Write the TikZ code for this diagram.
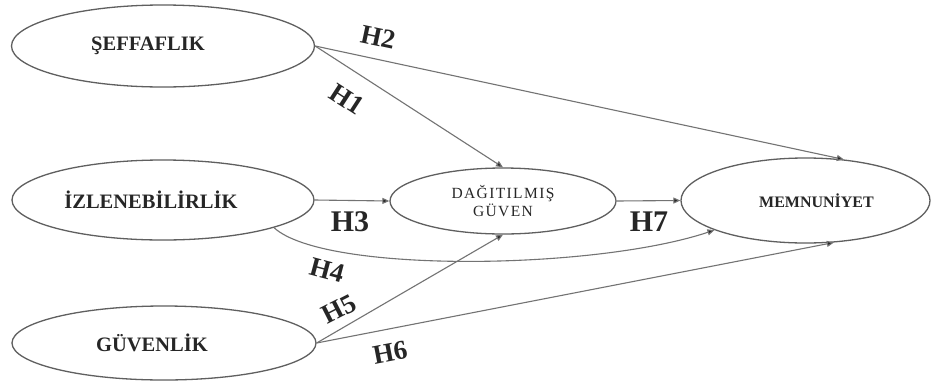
\documentclass[tikz,border=0pt]{standalone}
\usepackage{fontspec}
\setmainfont{Liberation Serif}
\usetikzlibrary{shapes.geometric,arrows.meta}

\definecolor{edgegray}{RGB}{95,95,95}
\definecolor{linkgray}{RGB}{115,115,115}

\tikzset{
  construct/.style={ellipse, draw=edgegray, line width=1.3pt, inner sep=0pt,
    font=\fontsize{20.5}{22}\selectfont\bfseries, text=black!85},
  link/.style={draw=linkgray, line width=1.1pt,
    -{Triangle[length=7pt,width=6pt,fill=black!85]}},
  hyp/.style={font=\fontsize{27}{29}\selectfont\bfseries, text=black!85, inner sep=0pt},
  hypbig/.style={font=\fontsize{30}{32}\selectfont\bfseries, text=black!85, inner sep=0pt},
}
% pull a label a little to the left of its ellipse centre
\newcommand{\leftby}[1]{\hspace*{-#1}}

\begin{document}
\begin{tikzpicture}[x=1pt,y=-1pt]
\useasboundingbox[fill=white] (0,0) rectangle (932,381);

% constructs
\node[construct, minimum width=303pt, minimum height=82pt] (sef) at (163,46) {\leftby{30pt}ŞEFFAFLIK};
\node[construct, minimum width=302pt, minimum height=80pt] (izl) at (163,200) {\leftby{24pt}İZLENEBİLİRLİK};
\node[construct, minimum width=304pt, minimum height=74pt] (gue) at (164,343) {\leftby{24pt}GÜVENLİK};
\node[construct, minimum width=226pt, minimum height=66pt, align=center,
      font=\fontsize{15.5}{18}\selectfont\addfontfeatures{LetterSpace=9}] (dg) at (503,201)
      {DAĞITILMIŞ\\GÜVEN};
\node[construct, minimum width=249pt, minimum height=85pt,
      font=\fontsize{16}{18}\selectfont\bfseries] (mem) at (805.5,200.5) {\hspace*{22pt}MEMNUNİYET};

% hypothesised paths
\draw[link] (sef.east) -- (dg.north);
\draw[link] (sef.east) -- (mem.47);
\draw[link] (izl.east) -- (dg.west);
\draw[link] (izl.-14) .. controls +(50,46) and +(-120,40) .. (mem.198);
\draw[link] (gue.east) -- (dg.south);
\draw[link] (gue.east) -- (mem.-56);
\draw[link] (dg.east) -- (mem.west);

% path labels
\node[hyp, rotate=-12] (h2) at (378,37) {H2};
\node[hyp, rotate=-33] (h1) at (347,99) {H1};
\node[hypbig] (h3) at (350,222) {H3};
\node[hyp, rotate=-15] (h4) at (327,270) {H4};
\node[hyp, rotate=27] (h5) at (339,309) {H5};
\node[hyp, rotate=11] (h6) at (390,353) {H6};
\node[hypbig] (h7) at (649,222) {H7};
\end{tikzpicture}
\end{document}
